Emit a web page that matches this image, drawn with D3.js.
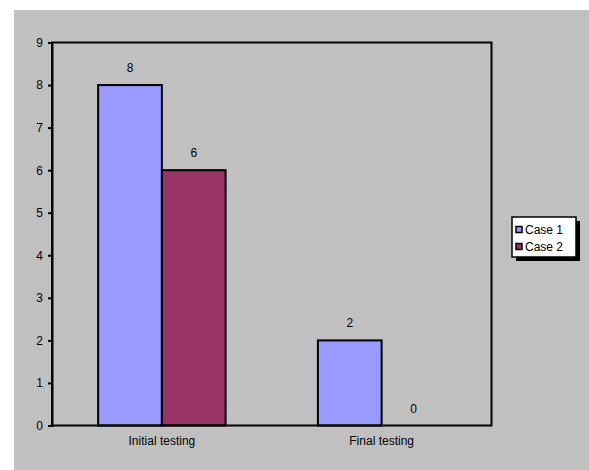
<!DOCTYPE html>
<html>
<head>
<meta charset="utf-8">
<script src="https://cdn.jsdelivr.net/npm/d3@7"></script>
<style>
  html, body { margin: 0; padding: 0; background: #ffffff; }
  svg { display: block; font-family: "Liberation Sans", Arial, sans-serif; }
</style>
</head>
<body>
<svg id="chart" width="589" height="470"></svg>
<script>
// Test results per phase
const categories = ["Initial testing", "Final testing"];
const seriesNames = ["Case 1", "Case 2"];
const case1 = [8, 2];
const case2 = [6, 0];
const yTicks = [0, 1, 2, 3, 4, 5, 6, 7, 8, 9];
const colors = ["#9999FF", "#993366"];

const seriesValues = [case1, case2];
const FONT = 12;

const svg = d3.select("#chart");

// chart background panel
svg.append("rect")
  .attr("x", 14).attr("y", 10)
  .attr("width", 575).attr("height", 460)
  .attr("fill", "#C0C0C0");

const plot = { left: 52, top: 42.5, right: 491.5, bottom: 425.5 };

const x0 = d3.scaleBand()
  .domain(categories)
  .range([plot.left, plot.right])
  .paddingInner(0.42)
  .paddingOuter(0.21);

const x1 = d3.scaleBand()
  .domain(seriesNames)
  .range([0, x0.bandwidth()])
  .padding(0);

const y = d3.scaleLinear()
  .domain([0, 9])
  .range([plot.bottom, plot.top]);

// bars with value labels
categories.forEach((cat, ci) => {
  const g = svg.append("g").attr("transform", `translate(${x0(cat)},0)`);
  seriesNames.forEach((s, si) => {
    const v = seriesValues[si][ci];
    if (v > 0) {
      g.append("rect")
        .attr("x", x1(s))
        .attr("y", y(v))
        .attr("width", x1.bandwidth())
        .attr("height", y(0) - y(v))
        .attr("fill", colors[si])
        .attr("stroke", "#000")
        .attr("stroke-width", 2);
    }
    g.append("text")
      .attr("x", x1(s) + x1.bandwidth() / 2)
      .attr("y", y(v) - 13)
      .attr("text-anchor", "middle")
      .attr("font-size", FONT)
      .attr("fill", "#000")
      .text(v);
  });
});

// plot frame
svg.append("rect")
  .attr("x", plot.left).attr("y", plot.top)
  .attr("width", plot.right - plot.left)
  .attr("height", plot.bottom - plot.top)
  .attr("fill", "none")
  .attr("stroke", "#000")
  .attr("stroke-width", 2);

// y axis
const yAxis = d3.axisLeft(y)
  .tickValues(yTicks)
  .tickSize(4)
  .tickPadding(5)
  .tickFormat(d3.format("d"));

const ya = svg.append("g")
  .attr("transform", `translate(${plot.left},0)`)
  .call(yAxis);
ya.select(".domain").attr("stroke", "#000").attr("stroke-width", 2);
ya.selectAll(".tick line").attr("stroke", "#000").attr("stroke-width", 2);
ya.selectAll(".tick text")
  .attr("font-size", FONT)
  .attr("font-family", "Liberation Sans, Arial, sans-serif")
  .attr("fill", "#000");

// category labels
const xAxis = d3.axisBottom(x0).tickSize(0).tickPadding(11);
const xa = svg.append("g")
  .attr("transform", `translate(0,${plot.bottom})`)
  .call(xAxis);
xa.select(".domain").remove();
xa.selectAll(".tick text")
  .attr("font-size", FONT)
  .attr("font-family", "Liberation Sans, Arial, sans-serif")
  .attr("fill", "#000");

// legend
const lg = svg.append("g").attr("transform", "translate(512,217)");
lg.append("rect")
  .attr("x", 4).attr("y", 4)
  .attr("width", 64).attr("height", 40)
  .attr("fill", "#000");
lg.append("rect")
  .attr("x", 0).attr("y", 0)
  .attr("width", 64).attr("height", 40)
  .attr("fill", "#fff")
  .attr("stroke", "#000")
  .attr("stroke-width", 1.5);
seriesNames.forEach((s, i) => {
  const row = lg.append("g").attr("transform", `translate(0,${13 + i * 17})`);
  row.append("rect")
    .attr("x", 4).attr("y", -3.5)
    .attr("width", 6).attr("height", 6)
    .attr("fill", colors[i])
    .attr("stroke", "#000")
    .attr("stroke-width", 1.5);
  row.append("text")
    .attr("x", 13).attr("y", 4)
    .attr("font-size", FONT)
    .attr("fill", "#000")
    .text(s);
});
</script>
</body>
</html>
